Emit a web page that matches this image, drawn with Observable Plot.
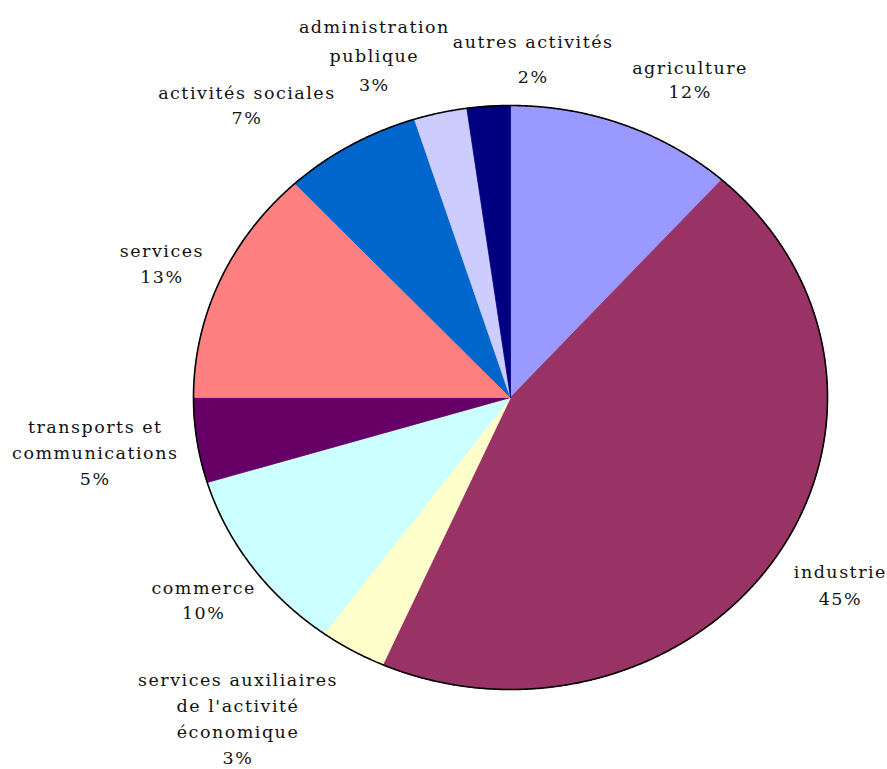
<!DOCTYPE html>
<html><head><meta charset="utf-8">
<script src="https://cdn.jsdelivr.net/npm/d3@7"></script>
<script src="https://cdn.jsdelivr.net/npm/@observablehq/plot@0.6"></script>
<style>body{margin:0;background:#fff}</style>
</head><body><div id="chart"></div>
<script>
// ---- data ----
const categories = ["agriculture", "industrie", "services auxiliaires", "commerce", "transports et communications", "services", "activités sociales", "administration publique", "autres activités"];
const labelLines = [["agriculture"], ["industrie"], ["services auxiliaires", "de l'activité", "économique"], ["commerce"], ["transports et", "communications"], ["services"], ["activités sociales"], ["administration", "publique"], ["autres activités"]];
const shares = [11.6, 45.0, 3.4, 10.3, 4.7, 13.1, 7.0, 2.7, 2.2];
const percentLabels = ["12%", "45%", "3%", "10%", "5%", "13%", "7%", "3%", "2%"];
const colors = ["#9999FF", "#993366", "#FFFFCC", "#CCFFFF", "#660066", "#FF8080", "#0066CC", "#CCCCFF", "#000080"];

// ---- layout (pixels) ----
const W = 887, H = 769;
const cx = 510, cy = 397, rx = 317, ry = 292;
const fontSize = 17.5;
const labelRadius = 1.2;
// per-label nudge [dx, dy] and line spacing (px)
const labelNudge = [[44, 8], [10, -4], [-83, 15], [3, -2], [-39, 2], [0, 4], [-72, 9], [-52, -3], [49, 6]];
const labelLineSpacing = [24, 27, 26, 25, 26, 26, 25, 29, 35];

const arcs = d3.pie().sort(null).value(d => d)(shares);
const step = 0.004;
const sliceRows = [];
arcs.forEach((a, i) => {
  sliceRows.push({cat: categories[i], x: 0, y: 0});
  const n = Math.max(2, Math.ceil((a.endAngle - a.startAngle) / step) + 1);
  for (let k = 0; k < n; k++) {
    const t = a.startAngle + (a.endAngle - a.startAngle) * k / (n - 1);
    sliceRows.push({cat: categories[i], x: Math.sin(t), y: Math.cos(t)});
  }
  sliceRows.push({cat: categories[i], x: 0, y: 0});
});
const rimRows = d3.range(0, 2 * Math.PI + step, step).map(t => ({x: Math.sin(t), y: Math.cos(t)}));

const labels = arcs.map((a, i) => {
  const m = (a.startAngle + a.endAngle) / 2;
  return {x: labelRadius * Math.sin(m), y: labelRadius * Math.cos(m), text: [...labelLines[i], percentLabels[i]].join("\n")};
});

const textMarks = labels.map((d, i) => Plot.text([d], {
  x: "x", y: "y", text: "text",
  dx: labelNudge[i][0], dy: labelNudge[i][1],
  lineHeight: labelLineSpacing[i] / fontSize,
  fill: "#111", textAnchor: "middle"
}));

const chart = Plot.plot({
  width: W, height: H,
  margin: 0,
  style: {fontFamily: "'DejaVu Serif', serif", fontSize: fontSize + "px", letterSpacing: "1.5px", background: "#fff"},
  x: {domain: [-cx / rx, (W - cx) / rx], range: [0, W], axis: null},
  y: {domain: [-(H - cy) / ry, cy / ry], range: [H, 0], axis: null},
  color: {domain: categories, range: colors},
  marks: [
    Plot.line(sliceRows, {x: "x", y: "y", z: "cat", fill: "cat", stroke: "cat", strokeWidth: 0.8, curve: "linear"}),
    Plot.line(rimRows, {x: "x", y: "y", stroke: "#000", strokeWidth: 1.6}),
    ...textMarks
  ]
});
document.getElementById("chart").appendChild(chart);
</script>
</body></html>
